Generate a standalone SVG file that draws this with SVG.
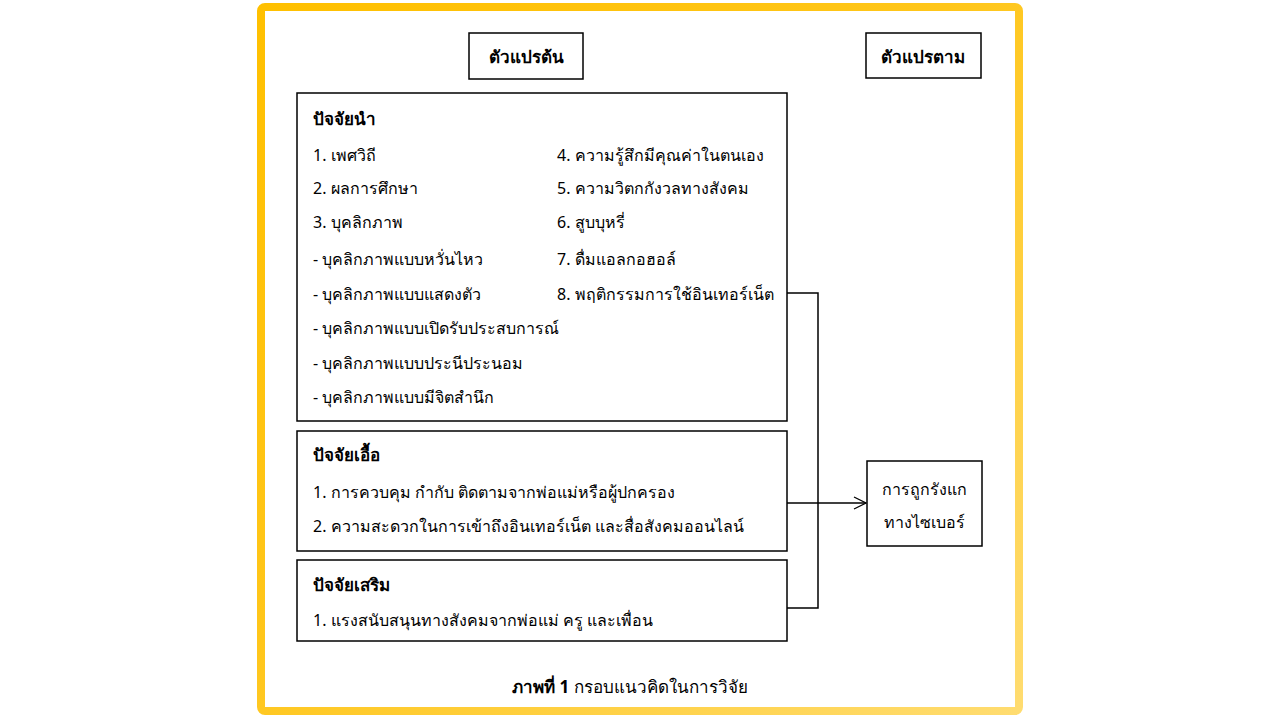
<svg xmlns="http://www.w3.org/2000/svg" width="1280" height="720" viewBox="0 0 1280 720">
<defs>
<linearGradient id="fr" x1="0" y1="0" x2="1" y2="1">
<stop offset="0" stop-color="#FFC000"/>
<stop offset="0.45" stop-color="#FFC61A"/>
<stop offset="1" stop-color="#FFDC70"/>
</linearGradient>
<marker id="ah" markerWidth="14" markerHeight="14" refX="13" refY="7" orient="auto" markerUnits="userSpaceOnUse">
<path d="M1,1 L13,7 L1,13" fill="none" stroke="#000" stroke-width="1.3"/>
</marker>
<style>
.t{font-family:"Noto Sans","Liberation Sans",sans-serif;font-size:16px;fill:#000}
.h{font-size:17px;font-weight:bold}
.b{font-weight:bold}
.box{fill:#fff;stroke:#000;stroke-width:1.5}
.c{fill:none;stroke:#000;stroke-width:1.5}
</style>
</defs>
<rect width="1280" height="720" fill="#fff"/>
<rect x="261" y="7" width="758" height="704" rx="4" fill="#fff" stroke="url(#fr)" stroke-width="8"/>
<g id="n_iv">
<rect class="box" x="469" y="33" width="114" height="46"/>
<text class="t h" x="526" y="63" text-anchor="middle">ตัวแปรต้น</text>
</g>
<g id="n_dv">
<rect class="box" x="866" y="33" width="115" height="45"/>
<text class="t h" x="923" y="63" text-anchor="middle">ตัวแปรตาม</text>
</g>
<g id="n_pre">
<rect class="box" x="297" y="93" width="490" height="328"/>
<text class="t h" x="313" y="125">ปัจจัยนำ</text>
<text class="t" x="313" y="161">1. เพศวิถี</text>
<text class="t" x="313" y="194">2. ผลการศึกษา</text>
<text class="t" x="313" y="228">3. บุคลิกภาพ</text>
<text class="t" x="313" y="265">- บุคลิกภาพแบบหวั่นไหว</text>
<text class="t" x="313" y="300">- บุคลิกภาพแบบแสดงตัว</text>
<text class="t" x="313" y="334">- บุคลิกภาพแบบเปิดรับประสบการณ์</text>
<text class="t" x="313" y="369">- บุคลิกภาพแบบประนีประนอม</text>
<text class="t" x="313" y="403">- บุคลิกภาพแบบมีจิตสำนึก</text>
<text class="t" x="557" y="161">4. ความรู้สึกมีคุณค่าในตนเอง</text>
<text class="t" x="557" y="194">5. ความวิตกกังวลทางสังคม</text>
<text class="t" x="557" y="228">6. สูบบุหรี่</text>
<text class="t" x="557" y="265">7. ดื่มแอลกอฮอล์</text>
<text class="t" x="557" y="300">8. พฤติกรรมการใช้อินเทอร์เน็ต</text>
</g>
<g id="n_enab">
<rect class="box" x="297" y="431" width="490" height="120"/>
<text class="t h" x="313" y="461">ปัจจัยเอื้อ</text>
<text class="t" x="313" y="498">1. การควบคุม กำกับ ติดตามจากพ่อแม่หรือผู้ปกครอง</text>
<text class="t" x="313" y="532">2. ความสะดวกในการเข้าถึงอินเทอร์เน็ต และสื่อสังคมออนไลน์</text>
</g>
<g id="n_reinf">
<rect class="box" x="297" y="560" width="490" height="81"/>
<text class="t h" x="313" y="591">ปัจจัยเสริม</text>
<text class="t" x="313" y="626">1. แรงสนับสนุนทางสังคมจากพ่อแม่ ครู และเพื่อน</text>
</g>
<g id="n_out">
<rect class="box" x="867" y="461" width="115" height="85"/>
<text class="t" x="924" y="495" text-anchor="middle">การถูกรังแก</text>
<text class="t" x="924" y="528" text-anchor="middle">ทางไซเบอร์</text>
</g>
<g id="connectors">
<polyline class="c" points="787,293 818,293 818,608 787,608"/>
<line class="c" x1="787" y1="503" x2="866" y2="503" marker-end="url(#ah)"/>
</g>
<text class="t" x="630" y="693" text-anchor="middle" style="font-size:17px"><tspan class="b">ภาพที่ 1</tspan> กรอบแนวคิดในการวิจัย</text>
</svg>
